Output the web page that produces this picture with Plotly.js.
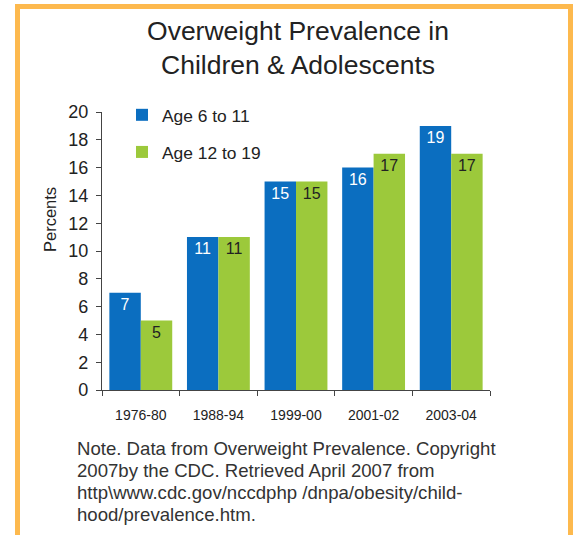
<!DOCTYPE html>
<html>
<head>
<meta charset="utf-8">
<script src="https://cdn.plot.ly/plotly-3.0.1.min.js"></script>
<style>
  html, body { margin: 0; padding: 0; background: #ffffff; }
  #chart { width: 573px; height: 535px; }
</style>
</head>
<body>
<div id="chart"></div>
<script>
// ---- data ----
const periods = ["1976-80", "1988-94", "1999-00", "2001-02", "2003-04"];
const age6to11 = [7, 11, 15, 16, 19];
const age12to19 = [5, 11, 15, 17, 17];
const seriesNames = ["Age 6 to 11", "Age 12 to 19"];
const yTicks = [0, 2, 4, 6, 8, 10, 12, 14, 16, 18, 20];
const titleText = "Overweight Prevalence in<br>Children &amp; Adolescents";
const yTitle = "Percents";
const noteLines = [
  "Note. Data from Overweight Prevalence. Copyright",
  "2007by the CDC. Retrieved April 2007 from",
  "http\\www.cdc.gov/nccdphp /dnpa/obesity/child-",
  "hood/prevalence.htm."
];

// ---- layout geometry (pixels) ----
const W = 573, H = 535;
const L = 102, R = 490, T = 112, B = 390;
const px2x = p => (p - L) / (R - L);
const py2y = p => (B - p) / (B - T);

const FONT = "Liberation Sans, Arial, Helvetica, sans-serif";
const BLUE = "#0b6ec0", GREEN = "#9cc93b", ORANGE = "#fdb94e", TXT = "#222222";

const traces = [
  {
    type: "bar", name: seriesNames[0], x: periods, y: age6to11,
    marker: { color: BLUE }, legendgroup: "a",
    text: age6to11.map(String), textposition: "inside", insidetextanchor: "end",
    textangle: 0, constraintext: "none",
    insidetextfont: { family: FONT, size: 16, color: "#ffffff" },
    hoverinfo: "none"
  },
  {
    type: "bar", name: seriesNames[1], x: periods, y: age12to19,
    marker: { color: GREEN }, legendgroup: "b",
    text: age12to19.map(String), textposition: "inside", insidetextanchor: "end",
    textangle: 0, constraintext: "none",
    insidetextfont: { family: FONT, size: 16, color: TXT },
    hoverinfo: "none"
  }
];

const noteAnnotations = noteLines.map((line, i) => ({
  text: line, showarrow: false, align: "left",
  xref: "paper", yref: "paper", x: px2x(75), y: py2y(448 + 22 * i),
  xanchor: "left", yanchor: "middle",
  font: { family: FONT, size: 18.6, color: "#333333" }
}));

const layout = {
  width: W, height: H,
  margin: { l: L, r: W - R, t: T, b: H - B, pad: 0 },
  paper_bgcolor: "#ffffff", plot_bgcolor: "#ffffff",
  font: { family: FONT, color: TXT },
  title: {
    text: titleText,
    font: { family: FONT, size: 26.5, color: "#222222" },
    xref: "container", x: 298 / W, xanchor: "center",
    yref: "container", y: 1 - 40 / H, yanchor: "middle"
  },
  barmode: "group", bargap: 0.19, bargroupgap: 0,
  showlegend: true,
  legend: {
    x: px2x(122), y: py2y(97), xanchor: "left", yanchor: "top",
    bgcolor: "rgba(0,0,0,0)", font: { family: FONT, size: 17.4, color: TXT },
    traceorder: "grouped", tracegroupgap: 11.5
  },
  xaxis: {
    type: "category", range: [-0.5, 4.5],
    showline: true, linecolor: "#444", linewidth: 1.2,
    ticks: "outside", tickson: "boundaries", ticklen: 5, tickcolor: "#444",
    tickfont: { family: FONT, size: 14, color: TXT },
    ticklabelstandoff: 12,
    showgrid: false, zeroline: false, fixedrange: true
  },
  yaxis: {
    range: [0, 20], tickvals: yTicks,
    showline: true, linecolor: "#444", linewidth: 1.2,
    ticks: "outside", ticklen: 5, tickcolor: "#444",
    tickfont: { family: FONT, size: 18, color: TXT },
    ticklabelstandoff: 4,
    showgrid: false, zeroline: false, fixedrange: true
  },
  annotations: [
    {
      text: yTitle, showarrow: false, textangle: -90,
      xref: "paper", yref: "paper", x: px2x(50), y: py2y(220),
      xanchor: "center", yanchor: "middle",
      font: { family: FONT, size: 16.5, color: TXT }
    }
  ].concat(noteAnnotations),
  shapes: [
    {
      type: "path", xref: "paper", yref: "paper",
      path: "M " + px2x(17.5) + " " + py2y(H + 10) +
            " L " + px2x(17.5) + " " + py2y(6.5) +
            " L " + px2x(570.5) + " " + py2y(6.5) +
            " L " + px2x(570.5) + " " + py2y(H + 10),
      line: { color: ORANGE, width: 5 }
    }
  ]
};

Plotly.newPlot("chart", traces, layout, { displayModeBar: false, staticPlot: true });
</script>
</body>
</html>
